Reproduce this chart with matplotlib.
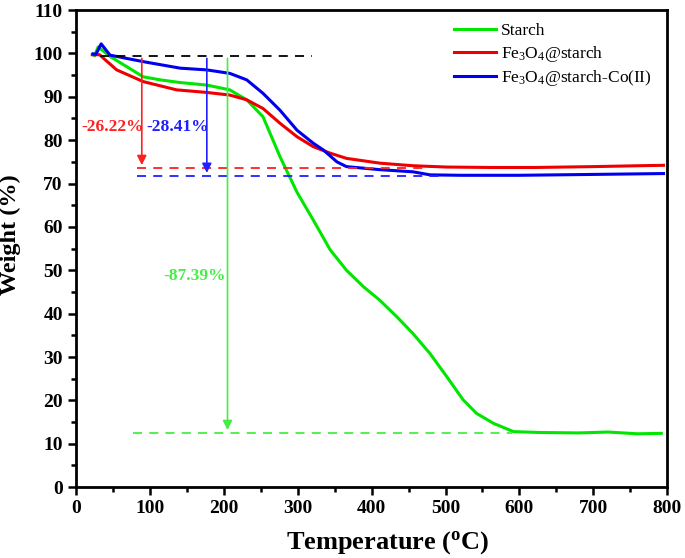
import matplotlib
matplotlib.use("Agg")
import matplotlib.pyplot as plt
from matplotlib.ticker import MultipleLocator

plt.rcParams['font.family'] = ['Liberation Serif', 'DejaVu Serif']
plt.rcParams['mathtext.fontset'] = 'custom'
plt.rcParams['mathtext.rm'] = 'Liberation Serif'
plt.rcParams['mathtext.it'] = 'Liberation Serif:italic'
plt.rcParams['mathtext.bf'] = 'Liberation Serif:bold'

# TGA curves
t_starch = [25, 30, 46, 69, 91, 114, 140, 177, 208, 231, 253, 276, 299, 321, 344, 366, 389, 411,
            434, 456, 479, 502, 524, 542, 565, 592, 627, 680, 720, 760, 792]
w_starch = [99.5, 101.5, 99.3, 96.9, 94.6, 93.9, 93.3, 92.7, 91.6, 89.3, 85.4, 76.2, 68.0, 61.6,
            54.7, 50.0, 46.2, 43.1, 39.3, 35.4, 30.8, 25.4, 20.1, 17.0, 14.7, 12.8, 12.6, 12.5,
            12.7, 12.3, 12.4]

t_fe = [22, 32, 37, 55, 91, 136, 177, 208, 231, 253, 276, 299, 321, 344, 366, 411, 456, 502,
        563, 620, 700, 760, 795]
w_fe = [99.7, 99.7, 98.9, 96.2, 93.5, 91.6, 91.0, 90.4, 89.3, 87.3, 83.9, 80.8, 78.5, 77.0, 75.8,
        74.7, 74.1, 73.8, 73.7, 73.7, 73.9, 74.1, 74.2]

t_co = [23, 27, 34, 46, 91, 141, 177, 208, 231, 253, 276, 299, 321, 335, 353, 366, 411, 456,
        479, 520, 600, 700, 795]
w_co = [99.9, 99.8, 102.2, 99.6, 98.1, 96.6, 96.2, 95.4, 93.9, 90.8, 86.9, 82.3, 79.3, 77.7, 75.0,
        73.9, 73.2, 72.7, 72.0, 71.9, 71.9, 72.1, 72.3]

labels = ['Starch', r'Fe$_3$O$_4$@starch', r'Fe$_3$O$_4$@starch-Co(II)']
colors = ['#00e600', '#ee0000', '#0000ee']

# mass-loss annotations: arrow x, residual level, text, text position
start_level = 99.5
loss_x = [89, 177, 205]
loss_level = [73.6, 71.8, 12.5]
loss_text = ['-26.22%', '-28.41%', '-87.39%']
text_xy = [(50, 83), (138, 83), (161, 48.7)]
dash_span = [(82, 470), (82, 500), (77, 590)]

fig = plt.figure(figsize=(6.85, 5.58), dpi=100)
ax = fig.add_axes([0.111, 0.127, 0.863, 0.855])

ax.plot(t_starch, w_starch, color=colors[0], lw=2.2, label=labels[0])
ax.plot(t_fe, w_fe, color=colors[1], lw=2.2, label=labels[1])
ax.plot(t_co, w_co, color=colors[2], lw=2.2, label=labels[2])

ax.plot([32, 320], [start_level, start_level], color='black', ls=(0, (5, 4)), lw=1.3)
annot_colors = ['#ff2020', '#2020ff', '#44ee44']
for i in range(3):
    c = annot_colors[i]
    ax.plot(dash_span[i], [loss_level[i]] * 2, color=c, ls=(0, (5, 4)), lw=1.3)
    ax.annotate('', xy=(loss_x[i], loss_level[i]), xytext=(loss_x[i], start_level),
                arrowprops=dict(arrowstyle='-|>', color=c, lw=1.2, mutation_scale=14))
    ax.text(text_xy[i][0], text_xy[i][1], loss_text[i], color=c, fontsize=12.5,
            fontweight='bold', ha='center', va='center')

ax.set_xlim(0, 800)
ax.set_ylim(0, 110)
ax.xaxis.set_major_locator(MultipleLocator(100))
ax.xaxis.set_minor_locator(MultipleLocator(50))
ax.yaxis.set_major_locator(MultipleLocator(10))
ax.yaxis.set_minor_locator(MultipleLocator(5))
ax.tick_params(which='both', direction='out', width=1.8, top=False, right=False)
ax.tick_params(which='major', length=6, labelsize=14)
ax.tick_params(which='minor', length=3.5)
for lab in ax.get_xticklabels() + ax.get_yticklabels():
    lab.set_fontweight('bold')
for s in ax.spines.values():
    s.set_linewidth(2)

ax.set_xlabel(r'Temperature ($\mathbf{^{o}}$C)', fontsize=19, fontweight='bold')
ax.set_ylabel('Weight (%)', fontsize=17.5, fontweight='bold')
ax.xaxis.set_label_coords(0.527, -0.088)
ax.yaxis.set_label_coords(-0.093, 0.53)

leg = ax.legend(loc='upper right', bbox_to_anchor=(1.0, 1.005), frameon=False, fontsize=12.5,
                handlelength=2.4, handletextpad=0.3, labelspacing=0.25)

fig.savefig('out.png', dpi=100)
